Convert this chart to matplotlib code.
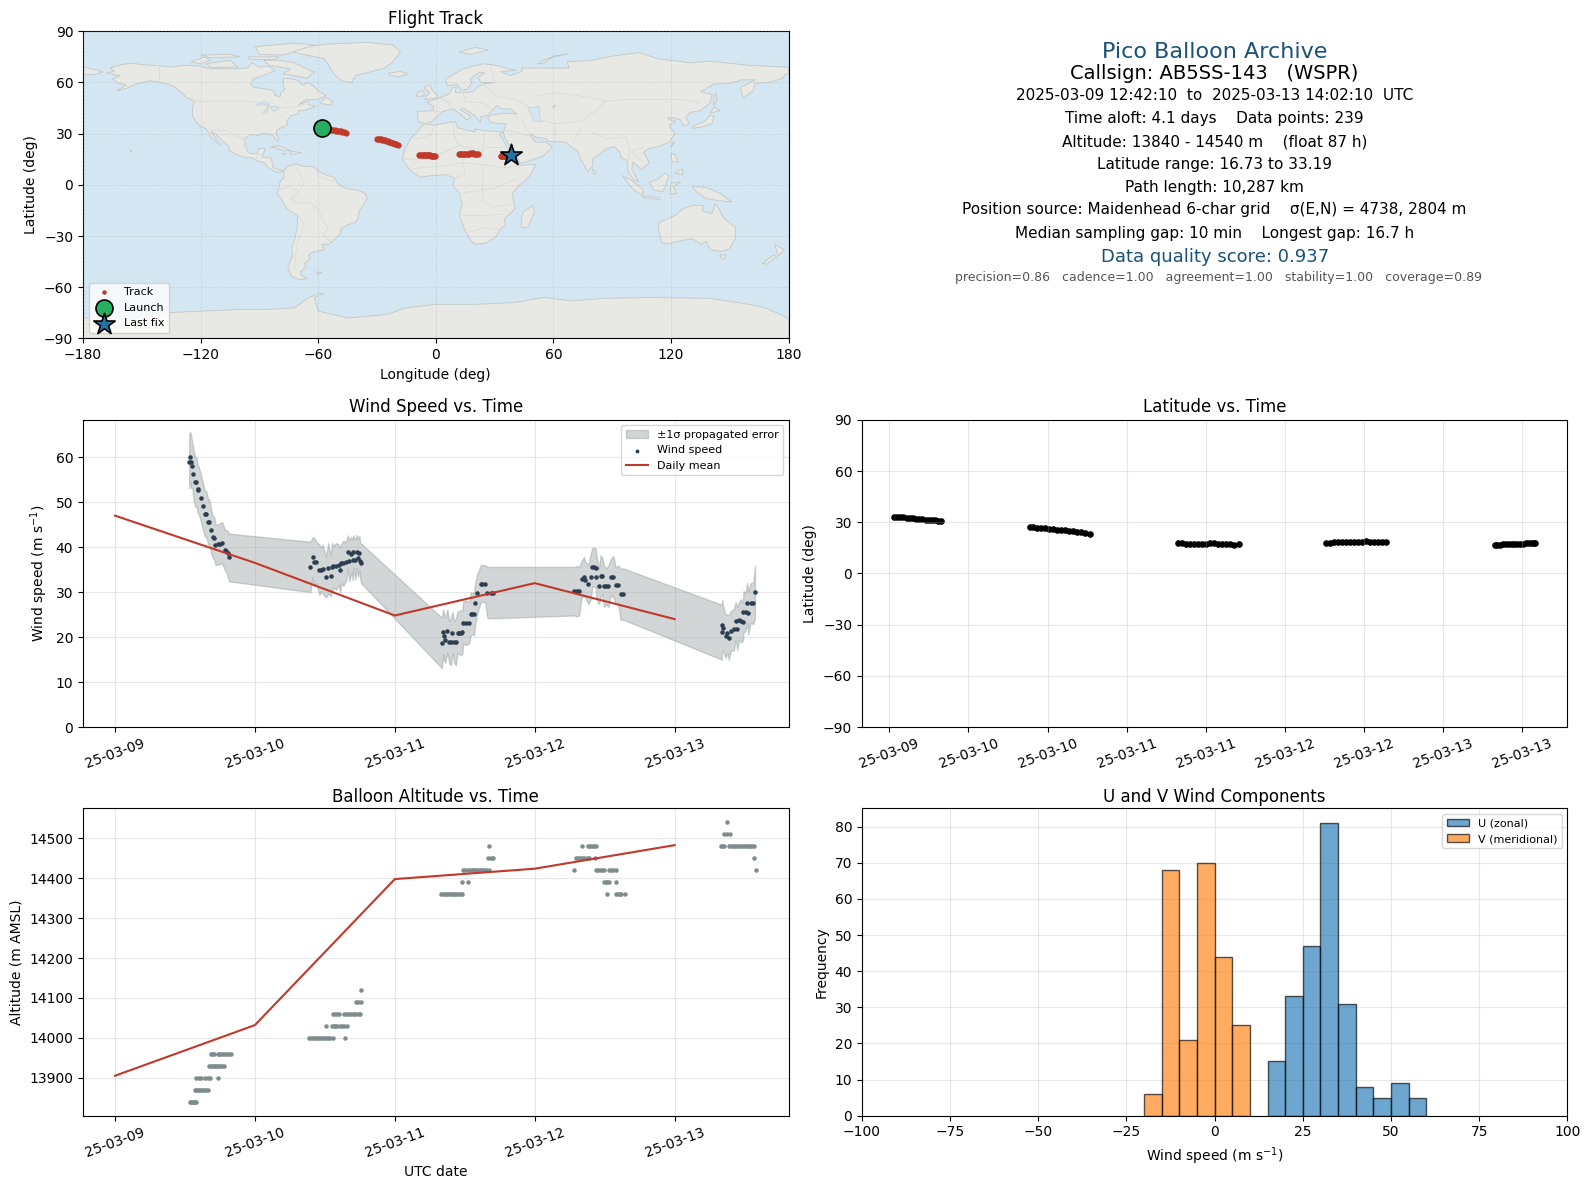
import datetime
import numpy as np
import matplotlib
matplotlib.use('Agg')
import matplotlib.pyplot as plt
import matplotlib.dates as mdates
from matplotlib.patches import Polygon

# times are days since 2025-03-09 00:00 UTC
track_t = [0.529, 0.549, 0.569, 0.589, 0.609, 0.629, 0.649, 0.669, 0.689, 0.709, 0.729, 0.749, 0.769, 0.789, 0.809, 0.826,
           1.388, 1.410, 1.435, 1.460, 1.485, 1.510, 1.535, 1.560, 1.585, 1.610, 1.635, 1.660, 1.685, 1.710, 1.735, 1.766,
           2.327, 2.352, 2.377, 2.402, 2.427, 2.452, 2.477, 2.502, 2.527, 2.552, 2.577, 2.602, 2.627, 2.652, 2.680, 2.710,
           3.264, 3.289, 3.314, 3.339, 3.364, 3.389, 3.414, 3.439, 3.464, 3.489, 3.514, 3.539, 3.564, 3.589, 3.614, 3.642,
           4.327, 4.345, 4.363, 4.381, 4.399, 4.417, 4.435, 4.453, 4.471, 4.489, 4.507, 4.525, 4.543, 4.561, 4.575, 4.585]
track_lat = [33.19, 33.05, 32.95, 32.85, 32.6, 32.45, 32.3, 32.15, 32.0, 31.8, 31.6, 31.45, 31.3, 31.05, 30.85, 30.5,
             27.1, 27.0, 26.8, 26.6, 26.4, 26.2, 26.0, 25.7, 25.5, 25.2, 25.0, 24.7, 24.4, 24.1, 23.8, 23.4,
             17.6, 17.6, 17.55, 17.55, 17.5, 17.5, 17.55, 17.55, 17.6, 17.6, 17.4, 17.2, 17.1, 17.0, 16.95, 17.0,
             17.9, 18.1, 18.2, 18.2, 18.2, 18.2, 18.25, 18.3, 18.35, 18.6, 18.75, 18.45, 18.3, 18.25, 18.3, 18.2,
             16.73, 16.8, 16.95, 17.05, 17.05, 17.1, 17.1, 17.15, 17.15, 17.3, 17.45, 17.6, 17.7, 17.75, 17.8, 17.7]
track_lon = [-58.0, -57.2, -56.4, -55.6, -54.8, -54.0, -53.2, -52.4, -51.6, -50.8, -50.0, -49.2, -48.4, -47.6, -46.6, -45.8,
             -30.2, -29.4, -28.7, -28.0, -27.3, -26.6, -25.9, -25.2, -24.5, -23.8, -23.1, -22.4, -21.7, -21.0, -20.2, -19.4,
             -8.3, -7.8, -7.2, -6.7, -6.1, -5.6, -5.0, -4.5, -3.9, -3.4, -2.8, -2.3, -1.8, -1.3, -0.8, -0.3,
             11.8, 12.4, 13.1, 13.7, 14.4, 15.0, 15.7, 16.3, 17.0, 17.6, 18.3, 18.9, 19.6, 20.2, 20.8, 21.4,
             33.2, 33.5, 33.9, 34.2, 34.6, 34.9, 35.3, 35.6, 36.0, 36.3, 36.7, 37.0, 37.4, 37.7, 38.1, 38.4]

wind_t = [0.530, 0.537, 0.544, 0.553, 0.560, 0.572, 0.582, 0.590, 0.596, 0.613, 0.628, 0.642, 0.652, 0.666, 0.675, 0.685,
          0.699, 0.709, 0.718, 0.733, 0.747, 0.766, 0.785, 0.794, 0.804, 0.816,
          1.396, 1.413, 1.422, 1.437, 1.461, 1.473, 1.484, 1.508, 1.523, 1.542, 1.551, 1.561, 1.580, 1.599, 1.609, 1.618,
          1.632, 1.652, 1.663, 1.675, 1.690, 1.699, 1.704, 1.718, 1.728, 1.737, 1.747, 1.752, 1.759,
          2.336, 2.345, 2.350, 2.360, 2.376, 2.388, 2.400, 2.412, 2.424, 2.436, 2.448, 2.460, 2.471, 2.483, 2.488, 2.507,
          2.531, 2.543, 2.555, 2.567, 2.574, 2.590, 2.614, 2.626, 2.645, 2.662, 2.686, 2.702,
          3.281, 3.300, 3.317, 3.336, 3.352, 3.360, 3.383, 3.400, 3.412, 3.424, 3.436, 3.440, 3.460, 3.471, 3.483, 3.495,
          3.512, 3.526, 3.545, 3.562, 3.579, 3.598, 3.614, 3.631,
          4.336, 4.340, 4.345, 4.364, 4.376, 4.388, 4.400, 4.424, 4.436, 4.448, 4.460, 4.474, 4.488, 4.492, 4.507, 4.519,
          4.526, 4.543, 4.562, 4.574]
wind_speed = [59.0, 60.1, 59.0, 58.1, 56.3, 54.5, 54.5, 53.0, 52.8, 51.0, 49.1, 47.4, 47.4, 45.6, 45.6, 43.8,
              42.2, 42.0, 40.5, 40.6, 40.7, 41.0, 39.3, 39.2, 38.6, 37.7,
              35.6, 37.8, 36.8, 36.6, 35.0, 35.0, 35.1, 33.3, 35.3, 33.6, 35.5, 35.7, 35.7, 36.1, 35.0, 36.4,
              36.4, 36.8, 38.9, 37.0, 38.4, 37.1, 39.0, 37.2, 39.0, 37.6, 38.7, 37.0, 36.4,
              18.7, 21.1, 20.2, 19.3, 21.3, 18.9, 18.9, 21.0, 18.9, 18.9, 21.0, 21.0, 21.0, 21.2, 23.2, 23.2,
              23.2, 25.2, 25.2, 25.2, 27.5, 29.7, 31.9, 31.9, 31.9, 29.9, 29.9, 29.9,
              30.2, 30.2, 30.2, 33.0, 33.4, 32.8, 31.7, 33.4, 35.6, 35.5, 35.4, 33.4, 31.3, 33.6, 33.6, 31.3,
              31.3, 31.3, 33.4, 33.4, 31.5, 31.5, 29.5, 29.6,
              21.1, 22.6, 22.0, 20.2, 20.8, 19.9, 21.3, 21.7, 23.6, 21.9, 23.7, 23.6, 23.4, 25.6, 25.6, 27.6,
              25.4, 27.6, 27.5, 30.0]
wind_sigma = [5.9, 5.6, 5.8, 5.0, 5.5, 5.5, 5.4, 5.3, 5.3, 5.2, 5.2, 5.1, 5.1, 5.0, 5.0, 4.8,
              4.7, 4.7, 4.5, 4.5, 4.5, 4.6, 4.5, 4.6, 5.0, 5.3,
              5.6, 4.4, 5.4, 4.7, 5.6, 4.8, 5.5, 4.5, 5.6, 4.5, 5.4, 4.6, 5.2, 4.5, 5.0, 4.4,
              5.0, 4.3, 3.7, 4.6, 3.9, 4.5, 3.6, 4.4, 3.7, 4.2, 3.8, 4.0, 4.4,
              5.6, 5.0, 5.2, 5.0, 4.8, 4.6, 5.2, 4.6, 4.6, 5.2, 4.6, 4.8, 5.0, 4.8, 4.6, 5.0,
              4.6, 4.8, 4.6, 4.8, 4.6, 4.4, 4.1, 4.1, 4.1, 5.7, 5.7, 5.7,
              5.4, 5.6, 5.4, 4.0, 4.4, 4.0, 4.4, 5.0, 4.3, 4.3, 4.3, 4.8, 4.0, 4.6, 4.0, 4.6,
              4.0, 4.6, 4.0, 4.6, 4.0, 4.4, 5.7, 5.7,
              6.1, 5.6, 5.0, 4.8, 4.2, 5.0, 4.4, 4.6, 4.2, 4.8, 4.2, 4.8, 4.2, 4.6, 4.2, 4.4,
              4.8, 4.4, 4.6, 5.9]

mean_days = [0, 1, 2, 3, 4]
mean_speed = [47.0, 36.5, 24.8, 32.0, 24.0]
mean_alt = [13905, 14032, 14398, 14424, 14483]

alt_levels = [13840, 13870, 13900, 13930, 13960, 14000, 14030, 14060, 14090, 14120,
              14360, 14390, 14420, 14450, 14480, 14510, 14540]
alt_times = [
    [0.535, 0.542, 0.549, 0.556, 0.563, 0.570, 0.578],
    [0.573, 0.582, 0.591, 0.600, 0.612, 0.624, 0.636, 0.648, 0.661],
    [0.582, 0.601, 0.618, 0.644, 0.661, 0.678, 0.733],
    [0.673, 0.684, 0.695, 0.706, 0.717, 0.728, 0.739, 0.750, 0.761, 0.780],
    [0.685, 0.696, 0.710, 0.733, 0.745, 0.756, 0.770, 0.784, 0.798, 0.812, 0.828],
    [1.389, 1.402, 1.415, 1.428, 1.441, 1.454, 1.467, 1.480, 1.495, 1.510, 1.525, 1.540, 1.556, 1.642],
    [1.508, 1.549, 1.562, 1.575, 1.590, 1.605, 1.620, 1.635, 1.659],
    [1.556, 1.570, 1.585, 1.600, 1.639, 1.652, 1.665, 1.680, 1.695, 1.710, 1.725, 1.742, 1.754],
    [1.723, 1.735, 1.759],
    [1.757],
    [2.329, 2.342, 2.355, 2.368, 2.381, 2.394, 2.407, 2.420, 2.433, 2.446, 2.459, 2.472, 2.483,
     3.519, 3.579, 3.593, 3.607, 3.620, 3.643],
    [2.483, 2.524, 3.495, 3.507, 3.520, 3.531, 3.579],
    [2.490, 2.505, 2.520, 2.535, 2.548, 2.561, 2.574, 2.587, 2.600, 2.613, 2.626, 2.640, 2.655, 2.674,
     3.281, 3.436, 3.452, 3.468, 3.482, 3.495, 3.531, 3.545, 3.560, 3.579, 4.579],
    [2.667, 2.685, 2.702, 3.293, 3.308, 3.323, 3.338, 3.353, 3.370, 3.388, 3.431, 4.569],
    [2.676, 3.340, 3.381, 3.395, 3.410, 3.425, 3.436,
     4.330, 4.341, 4.352, 4.388, 4.402, 4.416, 4.430, 4.444, 4.458, 4.472, 4.486, 4.500, 4.514, 4.528, 4.542, 4.556, 4.567],
    [4.352, 4.372, 4.393],
    [4.371],
]

hist_edges = [15, 20, 25, 30, 35, 40, 45, 50, 55, 60]
hist_u = [15, 33, 47, 81, 31, 8, 5, 9, 5]
hist_v_edges = [-20, -15, -10, -5, 0, 5, 10]
hist_v = [6, 68, 21, 70, 44, 25]

# rough coastlines, lon/lat, read by eye
north_america = [(-168, 65.5), (-164, 66.5), (-166, 68.5), (-161, 70.3), (-156, 71.3), (-150, 70.5), (-141, 69.7), (-135, 69),
                 (-128, 70), (-120, 69.5), (-115, 68), (-108, 68), (-102, 68), (-96, 68.5), (-94, 71.5), (-90, 69), (-85, 69.5),
                 (-82, 67), (-87, 64.5), (-93, 62), (-94.5, 59), (-92.5, 57), (-88, 56.5), (-82.5, 55), (-82, 52.5), (-79.5, 51.5),
                 (-79, 54), (-77, 56), (-78, 59), (-77.5, 62.5), (-73, 62), (-70, 61), (-68, 58.5), (-65, 60), (-62, 57.5), (-60, 55),
                 (-56, 52.5), (-60, 50), (-66, 50), (-70, 47), (-65, 49), (-65, 47), (-61, 46), (-66, 44), (-70, 43.5), (-70, 41.7),
                 (-74, 40.5), (-76, 37.5), (-75.5, 35.3), (-78, 34), (-81, 32), (-81.5, 30), (-80, 27), (-80.5, 25.2), (-82, 27),
                 (-83, 29.2), (-85, 29.7), (-89, 30.2), (-90, 29), (-94, 29.5), (-97.3, 27.5), (-97.5, 24), (-96, 19.5), (-94, 18.2),
                 (-91, 18.7), (-90.5, 21), (-87, 21.5), (-88, 18), (-88.5, 16), (-84, 15.8), (-83.3, 12), (-83, 10), (-80, 9),
                 (-77.5, 8.5), (-79, 7.5), (-81, 7.5), (-83, 8.3), (-85.5, 10), (-87.5, 13), (-91, 14), (-94, 16), (-97, 15.8),
                 (-102, 18), (-105.5, 20), (-105.5, 22.5), (-109, 26), (-112.5, 30), (-114.7, 31.5), (-113, 28), (-110, 24), (-110, 23),
                 (-112, 25), (-115, 28), (-116, 31), (-117.3, 33), (-120.5, 34.5), (-122.5, 37.5), (-124.2, 40.5), (-124, 46), (-123, 49),
                 (-127, 51), (-130, 54.5), (-134, 58), (-140, 60), (-146, 61), (-150, 60), (-153, 59), (-158, 56.5), (-163, 55),
                 (-158, 58.5), (-162, 59.5), (-165, 62), (-161, 64)]
south_america = [(-77.5, 8.5), (-75, 11), (-71.5, 12.3), (-68, 11), (-62, 10.5), (-60, 8), (-56, 5.8), (-52, 4.5), (-50, 1), (-48, -1),
                 (-44, -2.5), (-40, -3), (-36, -5), (-35, -8), (-37, -12), (-39, -15), (-39.5, -19), (-41, -22), (-45, -23.5), (-48.5, -26),
                 (-49, -29), (-52.5, -33), (-55, -35), (-58, -34.5), (-57, -38), (-62, -39), (-65, -41), (-64, -43), (-67, -46), (-66, -48),
                 (-69, -51), (-68.5, -53), (-65.5, -55), (-70, -55.5), (-74, -53), (-75.5, -48), (-73, -42), (-73.5, -37), (-71.5, -30),
                 (-70.5, -22), (-70.5, -18), (-76, -14), (-79, -8), (-81, -5), (-80, -2), (-80, 1), (-77.5, 4), (-77.5, 7)]
africa = [(-6, 35.8), (-1, 35), (10, 37.2), (11, 33.5), (15, 32.3), (20, 31), (20, 32.8), (25, 31.7), (32, 31.2), (34.3, 31), (32.5, 29.8),
          (34, 27), (37, 21), (38, 18), (41, 14.5), (43.3, 11.5), (51, 12), (48, 5), (42, -1), (39, -5), (40.5, -14), (35, -20), (35.5, -24),
          (32.7, -26), (31, -30), (26, -34), (20, -34.8), (18.2, -33), (15, -27), (12, -18), (13.5, -11), (12, -5), (9, -1), (9.5, 4), (5, 6),
          (-4, 5.2), (-8, 4.5), (-13, 8.5), (-17, 14.7), (-16, 20), (-13, 27), (-9.5, 31)]
eurasia = [(-5.5, 36), (-9, 37), (-9.3, 43), (-1.5, 43.5), (-1, 46), (-4.5, 48.5), (2, 51), (7, 53.5), (8.5, 57), (10.5, 57.5), (10, 54), (14, 54),
           (19, 54.5), (21, 57), (24, 59), (30, 60), (23, 60), (21.5, 63), (25, 65.5), (22, 66), (17.5, 62), (18.5, 60), (16, 56), (13, 55.5), (11, 59),
           (6, 58), (5, 62), (14, 68), (24, 71), (31, 70), (41, 67), (33, 66.5), (38, 64), (44, 66.5), (44, 68.5), (54, 68.5), (68, 68.5), (67, 72),
           (73, 72.5), (80, 73), (90, 75.5), (104, 77.5), (113, 74), (130, 71.5), (140, 72.5), (160, 70), (170, 69.5), (180, 69), (180, 65), (178, 64.5),
           (177, 62.5), (170, 60), (163, 59.5), (162, 55), (156.7, 51), (155.5, 57), (163, 61.5), (156, 61.5), (150, 59.5), (142, 59), (135, 54.5),
           (141, 53), (140, 48), (135, 43.5), (130, 42.5), (127.5, 39.5), (129.5, 36), (126.5, 34.5), (125, 38), (121, 39.5), (118, 39), (122.5, 37),
           (119, 35), (122, 30), (119, 25), (114, 22.5), (109, 21.5), (106, 19), (109, 13), (105, 9), (103, 11), (100.5, 13.5), (100, 9), (103.5, 2),
           (101, 3), (98, 8), (98, 14), (94.5, 16), (94, 19), (91, 22.5), (87, 21), (80, 15), (80, 11), (77.5, 8), (74, 15), (72.5, 20), (69, 22),
           (66.5, 25), (57, 25.5), (56.5, 27), (51, 28), (48, 30), (50, 26), (51.5, 25), (56, 25), (59.5, 22.5), (55, 17), (45, 13), (43, 13), (39, 21),
           (35, 28), (34.5, 31), (36, 36), (32, 36), (28, 36.5), (26.5, 39.5), (29, 41), (35, 42), (41.5, 41.5), (38, 44.5), (33.5, 44.5), (31, 46.5),
           (28, 42.5), (26, 40.5), (23, 40), (23, 36.5), (19.5, 41), (14, 45), (12.5, 44), (18, 40), (16, 38), (12, 42), (9, 44.5), (3.5, 43), (0, 39.5),
           (-2, 37)]
australia = [(114, -22), (113.5, -26), (115.5, -34), (119, -34.5), (124, -33), (131, -31.5), (135.5, -35), (138, -33), (140, -38), (146, -39),
             (150, -37.5), (153, -31), (153, -25), (146.5, -19), (145, -15), (142.5, -11), (141, -17), (136, -15), (136.5, -12), (131, -12), (126, -14), (122, -18)]
antarctica = [(-180, -90), (180, -90), (180, -78), (168, -72), (160, -70), (140, -66.5), (110, -66), (85, -66.5), (70, -68), (55, -66), (40, -69),
              (20, -70), (0, -70), (-15, -72), (-25, -76), (-45, -78), (-60, -74), (-62, -66), (-57, -63.5), (-60, -63.5), (-66, -67), (-72, -72),
              (-85, -73), (-100, -73), (-120, -74), (-140, -75), (-158, -78), (-180, -78)]
greenland = [(-73, 78), (-66, 81), (-55, 82.5), (-35, 83.5), (-22, 82), (-18, 78), (-22, 72), (-26, 68.5), (-34, 66), (-41, 64), (-43, 60), (-48, 61),
             (-52, 65), (-54, 69), (-57, 74), (-66, 76)]
islands = [
    [(-80, 73), (-72, 71.5), (-66, 68), (-62, 66), (-66, 62.5), (-72, 64), (-78, 65), (-74, 68), (-85, 70), (-88, 73)],
    [(-117, 71), (-105, 73), (-101, 69), (-115, 68.8)],
    [(-125, 72), (-118, 75), (-115, 73), (-120, 71)],
    [(-90, 76.5), (-78, 76), (-62, 82), (-72, 83), (-92, 81)],
    [(-96, 75), (-80, 75), (-82, 73.5), (-95, 73.5)],
    [(-120, 76), (-105, 76.5), (-100, 75), (-115, 74.5)],
    [(-59, 47.7), (-53, 46.7), (-53, 49), (-56, 51.5)],
    [(-85, 22), (-80, 23), (-74, 20), (-78, 20), (-82, 22)],
    [(-74, 19.8), (-68.5, 18.8), (-71, 18), (-74, 18.2)],
    [(-78.3, 18.4), (-76.3, 18.2), (-77, 17.7)],
    [(-24, 65.5), (-18, 66.5), (-14, 65), (-19, 63.4), (-23, 64)],
    [(-5.5, 50), (1.5, 51.2), (0, 53.5), (-2, 56), (-3, 58.5), (-6, 57), (-3, 54), (-5, 52)],
    [(-10, 52), (-6, 52), (-6, 55), (-9, 54.5)],
    [(12, 78), (20, 80.5), (27, 79), (18, 76.5)],
    [(52, 71), (57, 74), (68, 77), (60, 75.5), (55, 71)],
    [(49.5, -12), (50.3, -16), (47, -25), (44, -25), (43.5, -21), (44.5, -16)],
    [(130.5, 33), (136, 34), (141, 36), (142, 40), (140, 41), (137, 37), (132, 35)],
    [(140, 42), (145, 43.5), (142, 45.5)],
    [(142, 46), (143.5, 50), (143, 54), (142, 52)],
    [(120, 22), (122, 25), (121, 25.2)],
    [(120, 18), (122, 18), (124, 13), (120.5, 14)],
    [(122, 7), (126, 6), (126, 9.5)],
    [(80, 9.5), (82, 7), (80.5, 6)],
    [(109, 1.5), (113, 3), (117, 7), (119, 5), (117.5, 1), (116, -4), (111, -3)],
    [(95, 5.5), (100, 2.5), (106, -3), (105.5, -6), (101, -3)],
    [(105, -6.5), (114.5, -7.5), (114, -8.7), (106, -7.5)],
    [(119.5, -5.5), (120, 1), (125, 1.5), (121, -1), (123, -5)],
    [(131, -1), (138, -1.5), (145, -5), (151, -10), (143, -9), (138, -8), (133, -4)],
    [(145, -41), (148, -41), (147.5, -43.5), (146, -43.5)],
    [(173, -35), (178, -38), (175, -41.5), (174, -39)],
    [(172.5, -41), (174, -42), (169, -46.5), (166.5, -46)],
    [(-180, 69), (-172, 67), (-170, 66), (-175, 64.5), (-180, 65)],
    [(-61, -51), (-58, -51.5), (-60, -52.3)],
    [(-155.9, 20.2), (-155, 19.7), (-155.7, 19)],
]
lakes = [
    [(47, 45), (53, 46), (53, 40), (54, 37), (50, 37), (49, 41)],
    [(-92, 46.8), (-88, 48.8), (-85, 47.8), (-85, 46.6), (-88, 46.7)],
    [(-88, 42), (-85.5, 46), (-85, 45), (-86.5, 42)],
    [(-84.5, 46), (-81, 46), (-80, 44.6), (-82.5, 43), (-83.5, 44)],
    [(60, 45), (61.5, 46.8), (59, 45.8)],
]
borders = [
    [(-123, 49), (-95, 49), (-89, 48), (-83, 45.5), (-75, 45), (-67, 47)],
    [(-141, 69.7), (-141, 60)],
    [(-117, 32.5), (-106, 31.7), (-97, 26)],
    [(-92, 14.5), (-91, 18), (-88.5, 18)],
    [(-72, 12), (-67, 1), (-70, -4), (-74, -8), (-70, -11), (-65, -10), (-60, -14), (-58, -20), (-55, -25), (-57.5, -30), (-53.5, -33.5)],
    [(-70.5, -18), (-67, -23), (-70, -32), (-71.5, -40), (-72, -50)],
    [(-60, 8), (-60, 5), (-52, 2)],
    [(-80, -3), (-75, -1), (-70, -4)],
    [(-1, 35), (-2, 30), (-8, 27), (-13, 27)],
    [(9, 37), (9, 30), (12, 23), (24, 20), (25, 31.7)],
    [(25, 22), (37, 22)],
    [(-17, 15), (-5, 15), (4, 19), (12, 23)],
    [(-13, 9), (-8, 10), (3, 11), (14, 13), (24, 12), (34, 10), (42, 11)],
    [(14, 13), (15, 7), (9.5, 4)],
    [(12, -5), (30, -2), (42, 4)],
    [(12, -18), (24, -18), (35, -17)],
    [(16, -28), (25, -25), (32, -26)],
    [(24, 12), (24, -10), (30, -13), (40, -11)],
    [(2, 51), (7, 48), (8, 44)],
    [(-1.5, 43.5), (3, 42.5)],
    [(14, 54), (15, 49), (23, 48), (28, 45)],
    [(24, 59), (31, 52), (40, 50), (48, 46)],
    [(28, 70), (30, 60)],
    [(50, 52), (62, 54), (80, 51), (87, 49), (98, 50), (116, 50), (127, 50), (135, 48)],
    [(87, 49), (80, 42), (74, 37), (61, 36), (54, 38)],
    [(44, 39), (46, 33), (48, 30)],
    [(36, 32), (47, 29), (56, 25)],
    [(61, 36), (61, 25)],
    [(74, 34), (70, 24)],
    [(79, 31), (88, 27), (97, 28), (99, 20), (98, 14)],
    [(106, 22), (100, 20), (105, 14)],
]

sp_color = '#2c3e50'
alt_color = '#7f8c8d'
red = '#c0392b'
title_blue = '#1a5276'


def to_dates(days):
    return mdates.date2num(datetime.datetime(2025, 3, 9)) + np.asarray(days, dtype=float)


def date_axis(ax, locator):
    ax.xaxis.set_major_locator(locator)
    ax.xaxis.set_major_formatter(mdates.DateFormatter('%y-%m-%d'))
    ax.tick_params(axis='x', rotation=20)


fig, axs = plt.subplots(3, 2, figsize=(15.9, 11.89),
                        gridspec_kw={'left': 0.0522, 'right': 0.9858, 'top': 0.9737, 'bottom': 0.0617,
                                     'wspace': 0.104, 'hspace': 0.265})

# map
ax = axs[0, 0]
ax.set_facecolor('#d4e6f1')
for land in [north_america, south_america, africa, eurasia, australia, antarctica, greenland] + islands:
    ax.add_patch(Polygon(land, closed=True, facecolor='#e8e8e4', edgecolor='#c4c8c8', linewidth=0.6, zorder=1))
for lake in lakes:
    ax.add_patch(Polygon(lake, closed=True, facecolor='#d4e6f1', edgecolor='#c4c8c8', linewidth=0.4, zorder=1.1))
for border in borders:
    ax.plot([p[0] for p in border], [p[1] for p in border], color='#d8dad8', linewidth=0.5, zorder=1.2)
ax.scatter(track_lon, track_lat, s=12, color=red, label='Track', zorder=3)
ax.scatter(track_lon[0], track_lat[0], s=150, color='#27ae60', edgecolor='black', linewidth=1.2, label='Launch', zorder=4)
ax.scatter(track_lon[-1], track_lat[-1], s=260, marker='*', color='#2471a3', edgecolor='black', linewidth=1.2, label='Last fix', zorder=4)
ax.set_xlim(-180, 180)
ax.set_ylim(-90, 90)
ax.set_xticks(np.arange(-180, 181, 60))
ax.set_yticks(np.arange(-90, 91, 30))
ax.grid(True, color='#a0a8a8', linestyle='--', linewidth=0.5, alpha=0.3, zorder=2)
ax.set_axisbelow(False)
ax.set_title('Flight Track', pad=5)
ax.set_xlabel('Longitude (deg)')
ax.set_ylabel('Latitude (deg)')
leg = ax.legend(loc='lower left', fontsize=8)
leg.legend_handles[0].set_sizes([5])

# summary text
ax = axs[0, 1]
ax.axis('off')
ax.text(0.5, 0.933, 'Pico Balloon Archive', fontsize=16, color=title_blue, ha='center', va='center', transform=ax.transAxes)
ax.text(0.5, 0.861, 'Callsign: AB5SS-143   (WSPR)', fontsize=14, ha='center', va='center', transform=ax.transAxes)
ax.text(0.5, 0.792, '2025-03-09 12:42:10  to  2025-03-13 14:02:10  UTC', fontsize=11, ha='center', va='center', transform=ax.transAxes)
ax.text(0.5, 0.716, 'Time aloft: 4.1 days    Data points: 239', fontsize=11, ha='center', va='center', transform=ax.transAxes)
ax.text(0.5, 0.640, 'Altitude: 13840 - 14540 m    (float 87 h)', fontsize=11, ha='center', va='center', transform=ax.transAxes)
ax.text(0.5, 0.567, 'Latitude range: 16.73 to 33.19', fontsize=11, ha='center', va='center', transform=ax.transAxes)
ax.text(0.5, 0.492, 'Path length: 10,287 km', fontsize=11, ha='center', va='center', transform=ax.transAxes)
ax.text(0.5, 0.419, 'Position source: Maidenhead 6-char grid    σ(E,N) = 4738, 2804 m', fontsize=11, ha='center', va='center', transform=ax.transAxes)
ax.text(0.5, 0.343, 'Median sampling gap: 10 min    Longest gap: 16.7 h', fontsize=11, ha='center', va='center', transform=ax.transAxes)
ax.text(0.5, 0.264, 'Data quality score: 0.937', fontsize=13, color=title_blue, ha='center', va='center', transform=ax.transAxes)
ax.text(0.506, 0.197, 'precision=0.86   cadence=1.00   agreement=1.00   stability=1.00   coverage=0.89',
        fontsize=9, color='#555555', ha='center', va='center', transform=ax.transAxes)

# wind speed
ax = axs[1, 0]
wind = np.array(wind_speed)
sigma = np.array(wind_sigma)
ax.fill_between(to_dates(wind_t), wind - sigma, wind + sigma, color=alt_color, alpha=0.35, label='±1σ propagated error')
ax.scatter(to_dates(wind_t), wind, s=5, color=sp_color, label='Wind speed', zorder=3)
ax.plot(to_dates(mean_days), mean_speed, color=red, linewidth=1.5, label='Daily mean', zorder=4)
ax.set_xlim(to_dates(-0.229), to_dates(4.814))
ax.set_ylim(0, 68.3)
date_axis(ax, mdates.DayLocator())
ax.grid(True, alpha=0.3)
ax.set_title('Wind Speed vs. Time')
ax.set_ylabel('Wind speed (m s$^{-1}$)')
leg = ax.legend(loc='upper right', fontsize=8)
leg.legend_handles[1].set_sizes([3])

# latitude
ax = axs[1, 1]
ax.scatter(to_dates(track_t), track_lat, s=14, color='black')
ax.set_xlim(to_dates(0.326), to_dates(4.788))
ax.set_ylim(-90, 90)
ax.set_yticks(np.arange(-90, 91, 30))
date_axis(ax, mdates.HourLocator(byhour=[0, 12]))
ax.grid(True, alpha=0.3)
ax.set_title('Latitude vs. Time')
ax.set_ylabel('Latitude (deg)')

# altitude
ax = axs[2, 0]
for level, times in zip(alt_levels, alt_times):
    ax.scatter(to_dates(times), [level] * len(times), s=5, color=alt_color, zorder=3)
ax.plot(to_dates(mean_days), mean_alt, color=red, linewidth=1.5, zorder=4)
ax.set_xlim(to_dates(-0.229), to_dates(4.814))
ax.set_ylim(13805, 14575)
date_axis(ax, mdates.DayLocator())
ax.grid(True, alpha=0.3)
ax.set_title('Balloon Altitude vs. Time', pad=5)
ax.set_xlabel('UTC date')
ax.set_ylabel('Altitude (m AMSL)')

# histogram
ax = axs[2, 1]
ax.bar(hist_edges[:-1], hist_u, width=5, align='edge', color='#1f77b4', alpha=0.65, edgecolor='black', linewidth=1.0, label='U (zonal)')
ax.bar(hist_v_edges[:-1], hist_v, width=5, align='edge', color='#ff7f0e', alpha=0.65, edgecolor='black', linewidth=1.0, label='V (meridional)')
ax.set_xlim(-100, 100)
ax.set_ylim(0, 85.05)
ax.grid(True, alpha=0.3)
ax.set_axisbelow(True)
ax.set_title('U and V Wind Components', pad=5)
ax.set_xlabel('Wind speed (m s$^{-1}$)')
ax.set_ylabel('Frequency')
ax.legend(loc='upper right', fontsize=8)

fig.savefig('out.png', dpi=100)
